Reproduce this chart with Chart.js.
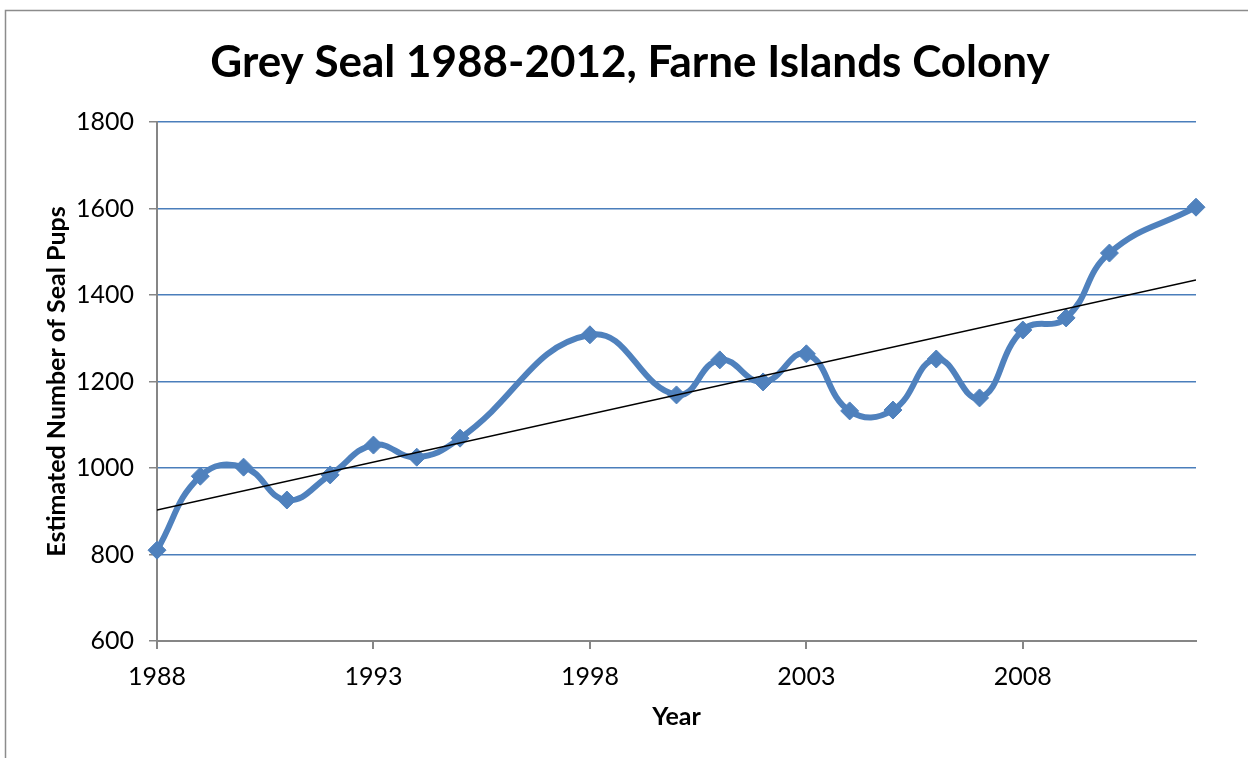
<!DOCTYPE html>
<html>
<head>
<meta charset="utf-8">
<script src="https://cdn.jsdelivr.net/npm/chart.js@4/dist/chart.umd.min.js"></script>
<style>
  html, body { margin: 0; padding: 0; background: #fff; }
  #wrap { width: 1248px; height: 758px; }
</style>
</head>
<body>
<div id="wrap"><canvas id="chart" width="1248" height="758"></canvas></div>
<script>
// values (1996, 1997, 1999, 2011 have no point)
const years = [1988, 1989, 1990, 1991, 1992, 1993, 1994, 1995, 1998, 2000, 2001, 2002, 2003, 2004, 2005, 2006, 2007, 2008, 2009, 2010, 2012];
const pups  = [810, 981, 1002, 926, 984, 1053, 1025, 1069, 1308, 1169, 1250, 1199, 1264, 1132, 1134, 1252, 1162, 1319, 1347, 1497, 1603];

// linear trend line end points
const trendYears = [1988, 2012];
const trendValues = [903, 1435];

const xTicks = [1988, 1993, 1998, 2003, 2008];
const yTicks = [600, 800, 1000, 1200, 1400, 1600, 1800];

const TITLE = "Grey Seal 1988-2012, Farne Islands Colony";
const FONT = "Lato, 'Open Sans', sans-serif";
const BLUE = "#4f81bd";
const GRID = "#4a7ebb";
const AXIS = "#868686";

// grey frame round the chart box, and the title (centred a bit right of the canvas middle)
const framePlugin = {
  id: "frame",
  beforeDraw(chart) {
    const c = chart.ctx;
    c.save();
    c.strokeStyle = "#8c8c8c";
    c.lineWidth = 1.5;
    c.beginPath();
    c.moveTo(5.5, 758);
    c.lineTo(5.5, 10.5);
    c.lineTo(1248, 10.5);
    c.stroke();
    c.fillStyle = "#000";
    c.font = "bold 44px " + FONT;
    c.textAlign = "center";
    c.textBaseline = "middle";
    c.fillText(TITLE, 630, 63);
    c.restore();
  }
};

new Chart(document.getElementById("chart"), {
  type: "line",
  data: {
    datasets: [
      {
        data: years.map((y, i) => ({ x: y, y: pups[i] })),
        borderColor: BLUE,
        backgroundColor: BLUE,
        borderWidth: 6,
        tension: 0.45,
        pointStyle: "rectRot",
        pointRadius: 9,
        pointBorderWidth: 1,
        pointBorderColor: BLUE,
        clip: false,
        order: 2
      },
      {
        data: trendYears.map((y, i) => ({ x: y, y: trendValues[i] })),
        borderColor: "#000",
        borderWidth: 1.5,
        pointRadius: 0,
        tension: 0,
        order: 1
      }
    ]
  },
  options: {
    responsive: false,
    animation: false,
    layout: { padding: { left: 10, right: 52, top: 122, bottom: 0 } },
    plugins: {
      legend: { display: false },
      tooltip: { enabled: false },
      title: { display: false }
    },
    scales: {
      x: {
        type: "linear",
        min: 1988,
        max: 2012,
        afterBuildTicks: s => { s.ticks = xTicks.map(v => ({ value: v })); },
        afterFit: s => { s.height = 117; },
        ticks: {
          color: "#000",
          font: { family: FONT, size: 25 },
          padding: 13,
          maxRotation: 0,
          callback: v => String(v)
        },
        grid: { drawOnChartArea: false, drawTicks: true, tickLength: 8, tickColor: AXIS, lineWidth: 2 },
        border: { color: AXIS, width: 2 },
        title: {
          display: true,
          text: "Year",
          color: "#000",
          font: { family: FONT, size: 25, weight: "bold" },
          padding: { top: 6, bottom: 26 }
        }
      },
      y: {
        min: 600,
        max: 1800,
        afterBuildTicks: s => { s.ticks = yTicks.map(v => ({ value: v })); },
        afterFit: s => { s.width = 147; },
        ticks: {
          color: "#000",
          font: { family: FONT, size: 25 },
          padding: 15,
          callback: v => String(v)
        },
        grid: {
          color: c => (c.tick && c.tick.value === 600 ? "rgba(0,0,0,0)" : GRID),
          lineWidth: 1.5,
          tickColor: AXIS,
          tickLength: 8
        },
        border: { color: AXIS, width: 2 },
        title: {
          display: true,
          text: "Estimated Number of Seal Pups",
          color: "#000",
          font: { family: FONT, size: 25, weight: "bold" },
          padding: { top: 32, bottom: 0 }
        }
      }
    }
  },
  plugins: [framePlugin]
});
</script>
</body>
</html>
